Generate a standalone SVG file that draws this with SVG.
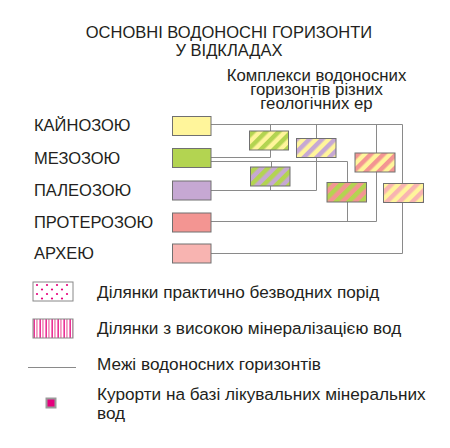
<svg xmlns="http://www.w3.org/2000/svg" width="450" height="448" viewBox="0 0 450 448">
<style>
text{font-family:"Liberation Sans",Arial,sans-serif;fill:#231f20}
.t{font-size:16.5px}
.lab{font-size:16.5px}
.sub{font-size:16.8px}
.leg{font-size:17.2px}
.box{stroke:#707070;stroke-width:1}
.ln{fill:none;stroke:#8a8a8a;stroke-width:1}
</style>
<defs>
<pattern id="yg" width="9" height="9" patternUnits="userSpaceOnUse" patternTransform="rotate(45)"><rect width="9" height="9" fill="#fff59b"/><rect width="4.5" height="9" fill="#b3d451"/></pattern>
<pattern id="yp" width="9" height="9" patternUnits="userSpaceOnUse" patternTransform="rotate(45)"><rect width="9" height="9" fill="#fff59b"/><rect width="4.5" height="9" fill="#c6a8d3"/></pattern>
<pattern id="pg" width="9" height="9" patternUnits="userSpaceOnUse" patternTransform="rotate(45)"><rect width="9" height="9" fill="#c6a8d3"/><rect width="4.5" height="9" fill="#b3d451"/></pattern>
<pattern id="rg" width="9" height="9" patternUnits="userSpaceOnUse" patternTransform="rotate(45)"><rect width="9" height="9" fill="#f39592"/><rect width="4.5" height="9" fill="#b3d451"/></pattern>
<pattern id="ry" width="9" height="9" patternUnits="userSpaceOnUse" patternTransform="rotate(45)"><rect width="9" height="9" fill="#fff59b"/><rect width="4.5" height="9" fill="#f39592"/></pattern>
<pattern id="ky" width="9" height="9" patternUnits="userSpaceOnUse" patternTransform="rotate(45)"><rect width="9" height="9" fill="#fff59b"/><rect width="4.5" height="9" fill="#f8b4b1"/></pattern>
<pattern id="vs" width="6" height="20" patternUnits="userSpaceOnUse" x="33" y="0"><rect width="6" height="20" fill="#fff"/><rect x="0.5" width="1.3" height="20" fill="#e5007d"/><rect x="3" width="1.8" height="20" fill="#f49ac1"/></pattern>
</defs>

<g id="title">
<text class="t" x="229" y="38" text-anchor="middle">ОСНОВНІ ВОДОНОСНІ ГОРИЗОНТИ</text>
<text class="t" x="229" y="56" text-anchor="middle">У ВІДКЛАДАХ</text>
</g>
<g id="subtitle">
<text class="sub" x="316.5" y="81" text-anchor="middle">Комплекси водоносних</text>
<text class="sub" x="316.5" y="95" text-anchor="middle">горизонтів різних</text>
<text class="sub" x="316.5" y="108.5" text-anchor="middle">геологічних ер</text>
</g>

<g id="connectors">
<path class="ln" d="M211,124.5 H402.5 V183.5 M270.5,124.5 V131 M316.5,124.5 V138.5 M376.5,124.5 V153"/>
<path class="ln" d="M211,157.5 H270.5 V150 M211,161.5 H347.5 V182.5 M271.5,161.5 V167"/>
<path class="ln" d="M211,190.5 H316.5 V157.5 M270.5,186 V190.5"/>
<path class="ln" d="M211,221.5 H376.5 V172 M347.5,202 V221.5"/>
<path class="ln" d="M211,253.5 H402.5 V202.5"/>
</g>

<g id="kainozoi"><rect class="box" x="172.5" y="116.5" width="38.5" height="19" fill="#fff59b"/><text class="lab" x="34" y="131">КАЙНОЗОЮ</text></g>
<g id="mezozoi"><rect class="box" x="172.5" y="148.5" width="38.5" height="19" fill="#b3d451"/><text class="lab" x="34" y="163.5">МЕЗОЗОЮ</text></g>
<g id="paleozoi"><rect class="box" x="172.5" y="181" width="38.5" height="19" fill="#c6a8d3"/><text class="lab" x="34" y="196">ПАЛЕОЗОЮ</text></g>
<g id="proterozoi"><rect class="box" x="172.5" y="213" width="38.5" height="19" fill="#f39592"/><text class="lab" x="34" y="228">ПРОТЕРОЗОЮ</text></g>
<g id="arkheiu"><rect class="box" x="172.5" y="244" width="38.5" height="19" fill="#f8b4b1"/><text class="lab" x="34" y="259">АРХЕЮ</text></g>

<g id="c-kz-mz"><rect class="box" x="249.5" y="131" width="39" height="19" fill="url(#yg)"/></g>
<g id="c-kz-pz"><rect class="box" x="296.5" y="138.5" width="39.5" height="19" fill="url(#yp)"/></g>
<g id="c-mz-pz"><rect class="box" x="250.5" y="167" width="39.5" height="19" fill="url(#pg)"/></g>
<g id="c-mz-pt"><rect class="box" x="327" y="182.5" width="39.5" height="19.5" fill="url(#rg)"/></g>
<g id="c-kz-pt"><rect class="box" x="355" y="153" width="40" height="19" fill="url(#ry)"/></g>
<g id="c-kz-ar"><rect class="box" x="383.5" y="183.5" width="40" height="19" fill="url(#ky)"/></g>

<g id="legend-dry">
<rect x="33" y="282" width="40" height="19" fill="#fff" stroke="#888" stroke-width="1"/>
<g fill="#e5007d">
<circle cx="37" cy="285" r="1.1"/><circle cx="47" cy="285" r="1.1"/><circle cx="57" cy="285" r="1.1"/><circle cx="67" cy="285" r="1.1"/>
<circle cx="42" cy="289.5" r="1.1"/><circle cx="52" cy="289.5" r="1.1"/><circle cx="62" cy="289.5" r="1.1"/>
<circle cx="37" cy="294" r="1.1"/><circle cx="47" cy="294" r="1.1"/><circle cx="57" cy="294" r="1.1"/><circle cx="67" cy="294" r="1.1"/>
<circle cx="42" cy="298.5" r="1.1"/><circle cx="52" cy="298.5" r="1.1"/><circle cx="62" cy="298.5" r="1.1"/>
</g>
<text class="leg" x="97" y="298">Ділянки практично безводних порід</text>
</g>
<g id="legend-mineral">
<rect x="33" y="319" width="40" height="19" fill="url(#vs)" stroke="#888" stroke-width="1"/>
<text class="leg" x="97" y="334">Ділянки з високою мінералізацією вод</text>
</g>
<g id="legend-boundary">
<line x1="28" y1="367.5" x2="76" y2="367.5" stroke="#8a8a8a" stroke-width="1"/>
<text class="leg" x="97" y="370">Межі водоносних горизонтів</text>
</g>
<g id="legend-resort">
<rect x="46.5" y="398.5" width="9" height="9" fill="#e5007d" stroke="#9a9a9a" stroke-width="2"/>
<text class="leg" x="97" y="399.5">Курорти на базі лікувальних мінеральних</text>
<text class="leg" x="97" y="419">вод</text>
</g>
</svg>
